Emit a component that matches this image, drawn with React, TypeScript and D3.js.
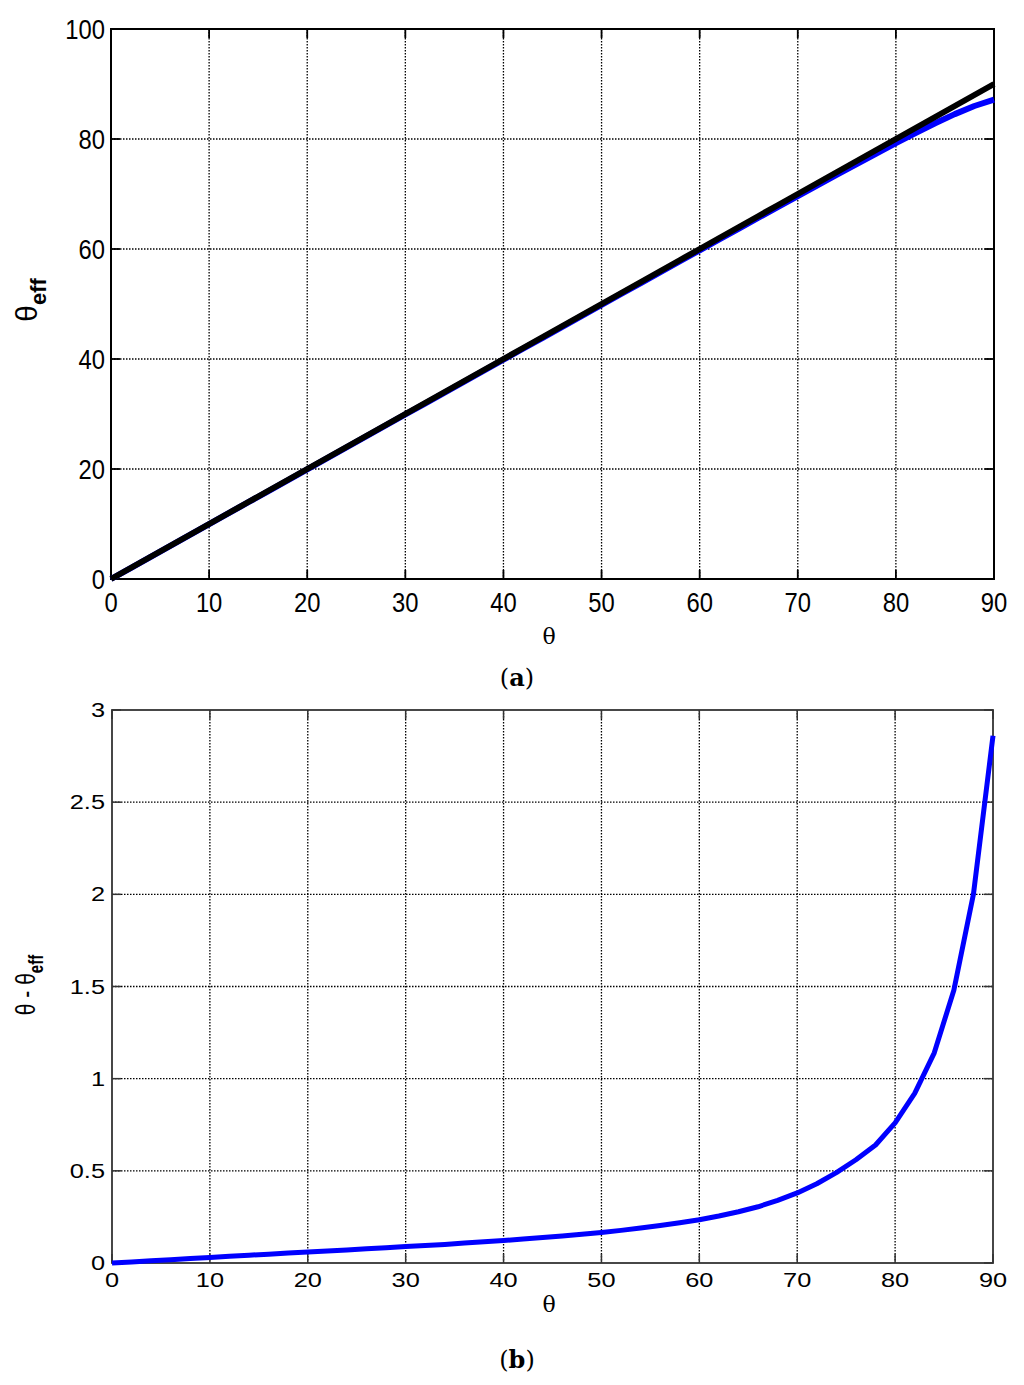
import React from "react";
import * as d3 from "d3";

const thetaDeg = [0,2,4,6,8,10,12,14,16,18,20,22,24,26,28,30,32,34,36,38,40,42,44,46,48,50,52,54,56,58,60,62,64,66,68,70,72,74,76,78,80,82,84,86,88,90];
const diffVals = [0,0.006,0.012,0.018,0.024,0.03,0.036,0.042,0.048,0.054,0.06,0.065,0.071,0.077,0.083,0.089,0.095,0.101,0.108,0.115,0.122,0.13,0.138,0.147,0.156,0.166,0.177,0.19,0.203,0.218,0.235,0.255,0.278,0.305,0.34,0.38,0.43,0.49,0.56,0.64,0.76,0.92,1.14,1.48,2.0,2.86];
const thetaEffVals = [0,1.994,3.988,5.982,7.976,9.97,11.964,13.958,15.952,17.946,19.94,21.935,23.929,25.923,27.917,29.911,31.905,33.899,35.892,37.885,39.878,41.87,43.862,45.853,47.844,49.834,51.823,53.81,55.797,57.782,59.765,61.745,63.722,65.695,67.66,69.62,71.57,73.51,75.44,77.36,79.24,81.08,82.86,84.52,86.0,87.14];
const thetaVals = thetaDeg;

const xTicks = [0,10,20,30,40,50,60,70,80,90];
const yTicksA = [0,20,40,60,80,100];
const yTicksB = [0,0.5,1,1.5,2,2.5,3];
const yTickLabelsB = ["0","0.5","1","1.5","2","2.5","3"];

const W = 1024, H = 1385;

function Grid({ x, y, xt, yt, x0, x1, y0, y1 }: any) {
  return (
    <g>
      {xt.slice(1, -1).map((t: number) => (
        <line key={"gx" + t} x1={x(t)} x2={x(t)} y1={y0} y2={y1} stroke="#000" strokeWidth={1.3} strokeDasharray="1.5,1.5" />
      ))}
      {yt.slice(1, -1).map((t: number) => (
        <line key={"gy" + t} x1={x0} x2={x1} y1={y(t)} y2={y(t)} stroke="#000" strokeWidth={1.3} strokeDasharray="1.5,1.5" />
      ))}
    </g>
  );
}

function Ticks({ x, y, xt, yt, x0, x1, y0, y1, color, sw }: any) {
  const L = 9;
  return (
    <g stroke={color} strokeWidth={sw}>
      {xt.map((t: number) => (
        <g key={"tx" + t}>
          <line x1={x(t)} x2={x(t)} y1={y1} y2={y1 - L} />
          <line x1={x(t)} x2={x(t)} y1={y0} y2={y0 + L} />
        </g>
      ))}
      {yt.map((t: number) => (
        <g key={"ty" + t}>
          <line x1={x0} x2={x0 + L} y1={y(t)} y2={y(t)} />
          <line x1={x1} x2={x1 - L} y1={y(t)} y2={y(t)} />
        </g>
      ))}
    </g>
  );
}

function SText({ x, y, sx, anchor, size, family, children }: any) {
  return (
    <text transform={`translate(${x},${y}) scale(${sx},1)`} textAnchor={anchor} fontFamily={family} fontSize={size} fill="#000">{children}</text>
  );
}

export default function App() {
  // Panel A
  const aL = 111, aR = 994, aT = 29, aB = 579;
  const xa = d3.scaleLinear().domain([0, 90]).range([aL, aR]);
  const ya = d3.scaleLinear().domain([0, 100]).range([aB, aT]);
  const lineA = d3.line<[number, number]>().x(d => xa(d[0])).y(d => ya(d[1]));
  const blueA = lineA(thetaDeg.map((t, i) => [t, thetaEffVals[i]]))!;
  const blackA = lineA(thetaDeg.map((t, i) => [t, thetaVals[i]]))!;

  // Panel B
  const bL = 112, bR = 993, bT = 710, bB = 1263;
  const xb = d3.scaleLinear().domain([0, 90]).range([bL, bR]);
  const yb = d3.scaleLinear().domain([0, 3]).range([bB, bT]);
  const lineB = d3.line<[number, number]>().x(d => xb(d[0])).y(d => yb(d[1]));
  const blueB = lineB(thetaDeg.map((t, i) => [t, diffVals[i]]))!;

  const sans = "'Liberation Sans', Arial, sans-serif";
  const serif = "'DejaVu Serif', 'Liberation Serif', serif";

  return (
    <svg width={W} height={H} viewBox={`0 0 ${W} ${H}`} style={{ display: "block", position: "absolute", left: 0, top: 0, background: "#fff" }}>
      <rect x={0} y={0} width={W} height={H} fill="#fff" />
      {/* Panel A */}
      <Grid x={xa} y={ya} xt={xTicks} yt={yTicksA} x0={aL} x1={aR} y0={aT} y1={aB} />
      <Ticks x={xa} y={ya} xt={xTicks} yt={yTicksA} x0={aL} x1={aR} y0={aT} y1={aB} color="#000" sw={1.8} />
      <rect x={aL} y={aT} width={aR - aL} height={aB - aT} fill="none" stroke="#000" strokeWidth={2} />
      <path d={blueA} fill="none" stroke="#0000ff" strokeWidth={6} strokeLinejoin="round" />
      <path d={blackA} fill="none" stroke="#000" strokeWidth={6} strokeLinejoin="round" />
      {yTicksA.map(t => (
        <SText key={"ya" + t} x={aL - 6} y={ya(t) + 10} sx={0.85} anchor="end" size={28} family={sans}>{t}</SText>
      ))}
      {xTicks.map(t => (
        <SText key={"xa" + t} x={xa(t)} y={612} sx={0.85} anchor="middle" size={28} family={sans}>{t}</SText>
      ))}
      <text transform={`translate(37,${300}) rotate(-90)`} textAnchor="middle" fontFamily={sans} fontSize={30} fill="#000">
        θ<tspan fontSize={22} fontWeight="bold" dy={9}>eff</tspan>
      </text>
      <text x={549} y={644} textAnchor="middle" fontFamily={serif} fontSize={22} fill="#000">θ</text>
      <text x={517} y={686} textAnchor="middle" fontFamily={serif} fontSize={24} fill="#000">(<tspan fontWeight="bold">a</tspan>)</text>

      {/* Panel B */}
      <Grid x={xb} y={yb} xt={xTicks} yt={yTicksB} x0={bL} x1={bR} y0={bT} y1={bB} />
      <Ticks x={xb} y={yb} xt={xTicks} yt={yTicksB} x0={bL} x1={bR} y0={bT} y1={bB} color="#333" sw={1.5} />
      <rect x={bL} y={bT} width={bR - bL} height={bB - bT} fill="none" stroke="#333" strokeWidth={1.8} />
      <path d={blueB} fill="none" stroke="#0000ff" strokeWidth={5} strokeLinejoin="round" />
      {yTicksB.map((t, i) => (
        <SText key={"yb" + t} x={bL - 7} y={yb(t) + 7} sx={1.3} anchor="end" size={19.5} family={sans}>{yTickLabelsB[i]}</SText>
      ))}
      {xTicks.map(t => (
        <SText key={"xb" + t} x={xb(t)} y={1287} sx={1.3} anchor="middle" size={19.5} family={sans}>{t}</SText>
      ))}
      <text transform={`translate(35,${985}) rotate(-90) scale(0.75,1)`} textAnchor="middle" fontFamily={sans} fontSize={28} fill="#000">
        θ - θ<tspan fontSize={20} fontWeight="bold" dy={8}>eff</tspan>
      </text>
      <text x={549} y={1312} textAnchor="middle" fontFamily={serif} fontSize={22} fill="#000">θ</text>
      <text x={517} y={1368} textAnchor="middle" fontFamily={serif} fontSize={24} fill="#000">(<tspan fontWeight="bold">b</tspan>)</text>
    </svg>
  );
}
